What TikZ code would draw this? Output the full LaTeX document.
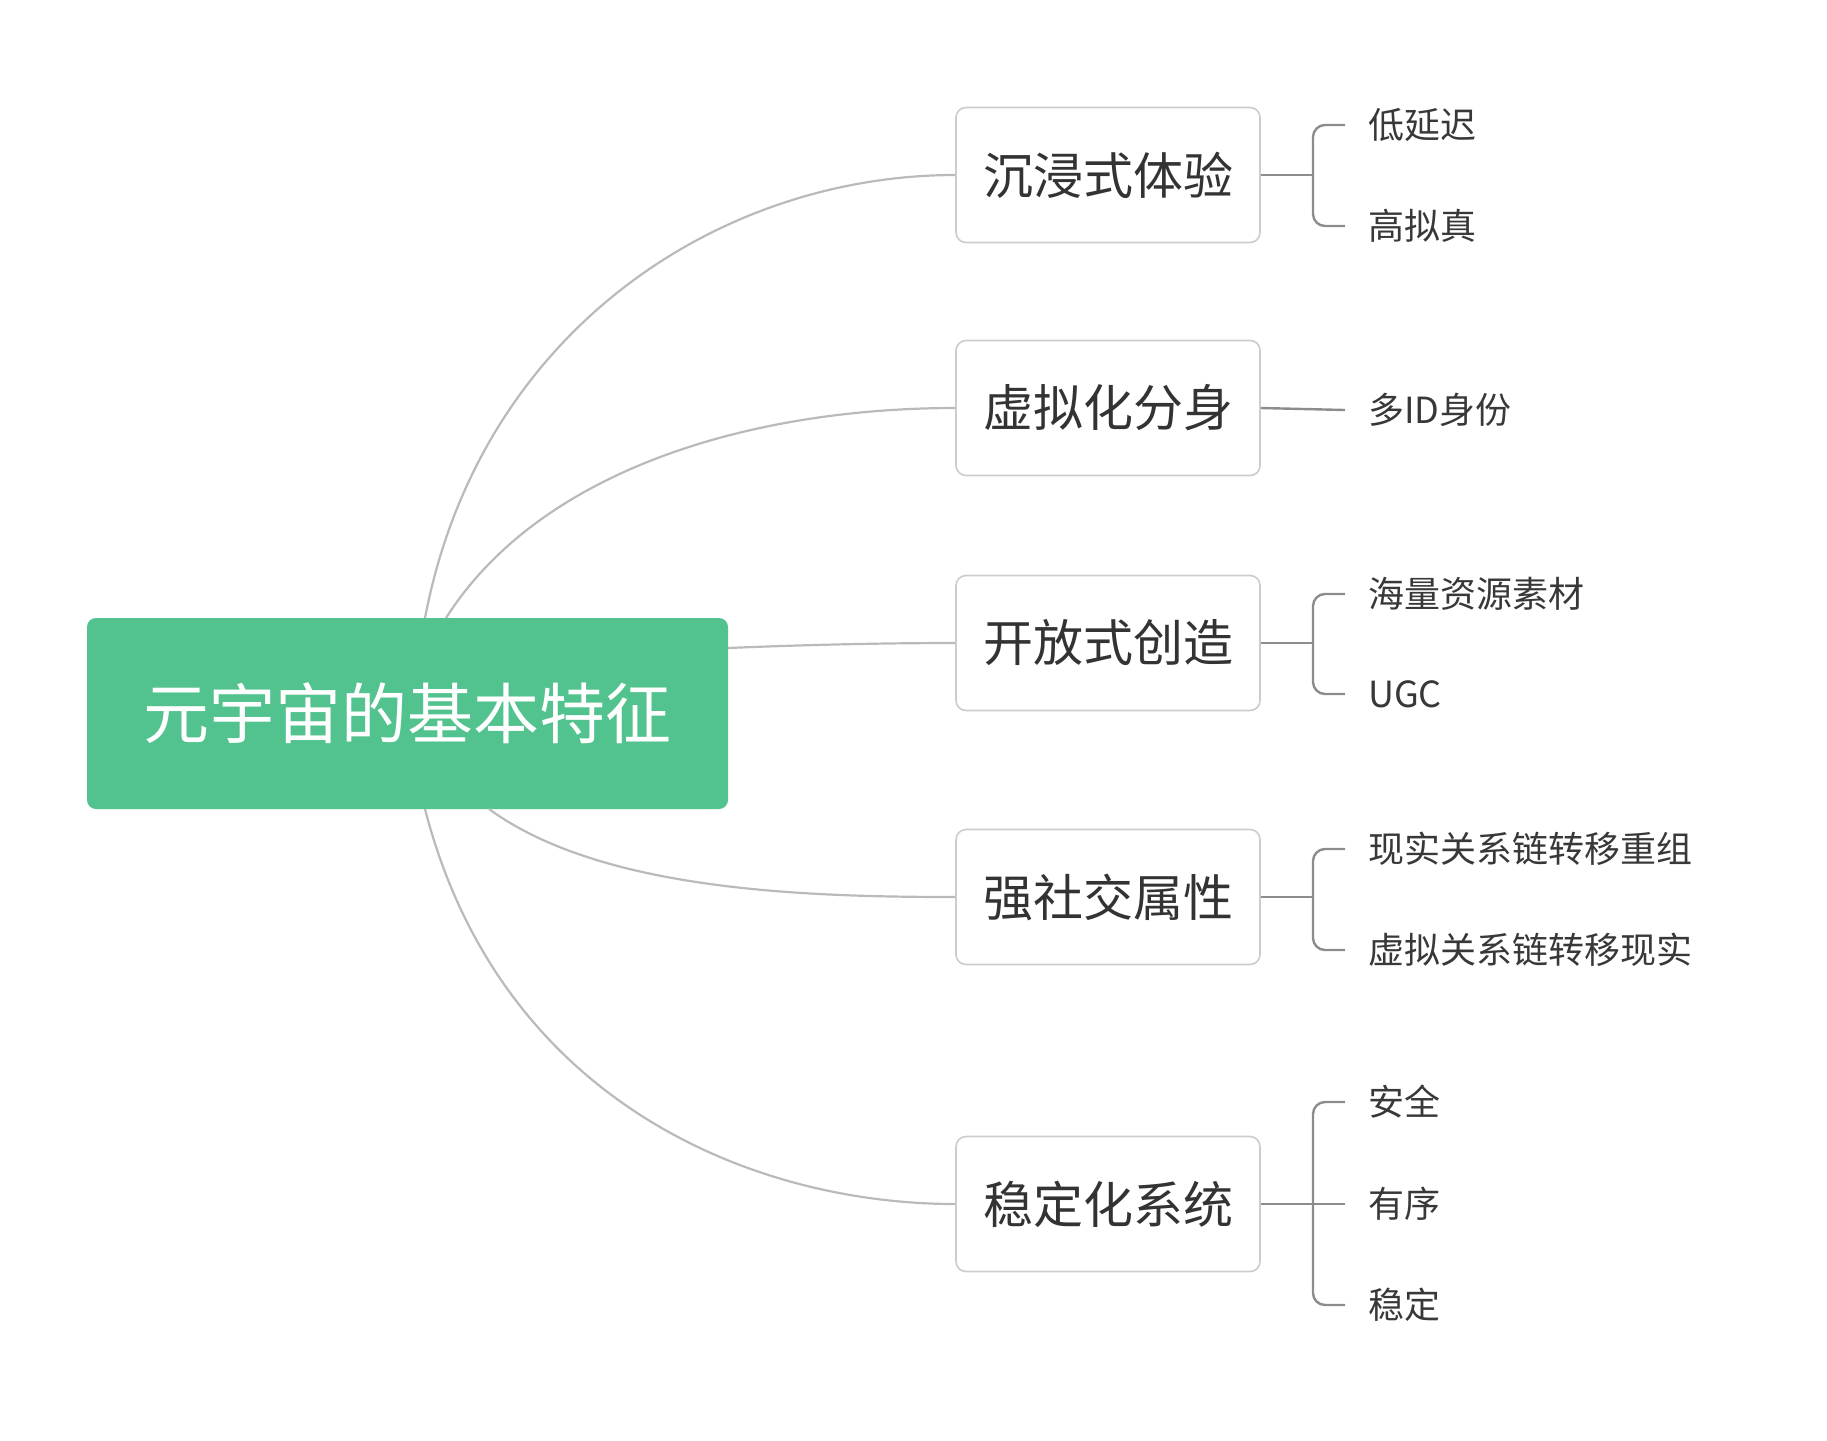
\documentclass[tikz,border=0pt]{standalone}
\usepackage{fontspec}
\setmainfont{Noto Sans CJK SC}
\begin{document}
\begin{tikzpicture}[x=1pt,y=-1pt,
  conn/.style={draw=black!27,line width=2.2pt},
  brk/.style={draw=black!45,line width=2.4pt,rounded corners=12pt},
  child/.style={draw=black!20,line width=1.6pt,fill=white,rounded corners=10pt,minimum width=304pt,minimum height=135pt,font=\fontsize{50}{60}\selectfont,text=black!80},
  leaf/.style={anchor=west,inner xsep=23pt,font=\fontsize{36}{44}\selectfont,text=black!78}]
\useasboundingbox (0,0) rectangle (1827,1440);
\definecolor{grn}{HTML}{52C38E}
\node[fill=grn,rounded corners=9pt,minimum width=641pt,minimum height=191pt,text=white,font=\fontsize{66}{80}\selectfont] (root) at (407.5,713.5) {元宇宙的基本特征};
\node[child] (c1) at (1108,175) {沉浸式体验};
\node[child] (c2) at (1108,408) {虚拟化分身};
\node[child] (c3) at (1108,643) {开放式创造};
\node[child] (c4) at (1108,897) {强社交属性};
\node[child] (c5) at (1108,1204) {稳定化系统};
\coordinate (s1) at (425,618); \coordinate (s2) at (446,618);
\coordinate (s3) at (728,648); \coordinate (s4) at (489,809); \coordinate (s5) at (425,809);
\draw[conn] (s1) .. controls (480,330) and (720,175) .. (c1.west);
\draw[conn] (s2) .. controls (540,470) and (750,408) .. (c2.west);
\draw[conn] (s3) .. controls (800,645) and (880,643) .. (c3.west);
\draw[conn] (s4) .. controls (600,890) and (800,897) .. (c4.west);
\draw[conn] (s5) .. controls (500,1100) and (750,1204) .. (c5.west);
\node[leaf] (l11) at (1345,125) {低延迟};
\node[leaf] (l12) at (1345,226) {高拟真};
\node[leaf] (l21) at (1345,410) {多ID身份};
\node[leaf] (l31) at (1345,594) {海量资源素材};
\node[leaf] (l32) at (1345,694) {UGC};
\node[leaf] (l41) at (1345,849) {现实关系链转移重组};
\node[leaf] (l42) at (1345,950) {虚拟关系链转移现实};
\node[leaf] (l51) at (1345,1102) {安全};
\node[leaf] (l52) at (1345,1204) {有序};
\node[leaf] (l53) at (1345,1305) {稳定};
\draw[brk] (c1.east) -- (1313,175);
\draw[brk] (l11.west) -- (1313,125) -- (1313,226) -- (l12.west);
\draw[brk] (c2.east) -- (l21.west);
\draw[brk] (c3.east) -- (1313,643);
\draw[brk] (l31.west) -- (1313,594) -- (1313,694) -- (l32.west);
\draw[brk] (c4.east) -- (1313,897);
\draw[brk] (l41.west) -- (1313,849) -- (1313,950) -- (l42.west);
\draw[brk] (c5.east) -- (l52.west);
\draw[brk] (l51.west) -- (1313,1102) -- (1313,1305) -- (l53.west);
\end{tikzpicture}
\end{document}
